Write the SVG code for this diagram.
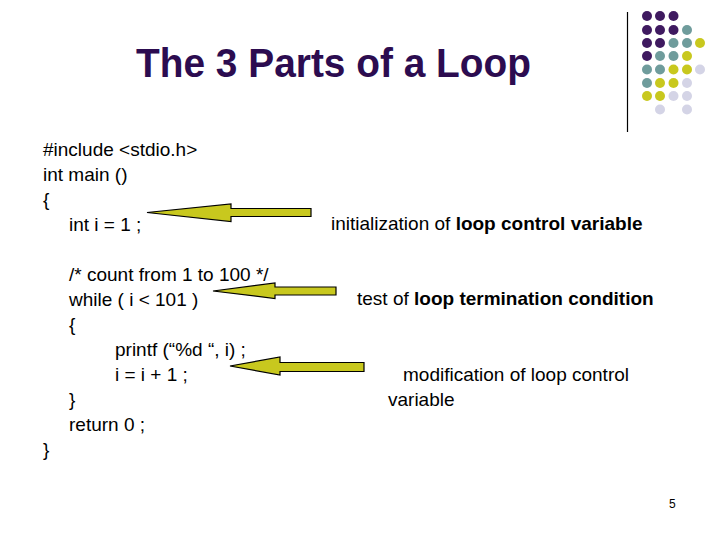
<svg xmlns="http://www.w3.org/2000/svg" width="720" height="540" viewBox="0 0 720 540">
<style>
.t{font-family:"Liberation Sans",Arial,sans-serif;fill:#000;font-size:19px}
.b{font-weight:bold}
.title{font-family:"Liberation Sans",Arial,sans-serif;fill:#2c0c50;font-size:40px;font-weight:bold}
.p{fill:#3f1a60}.g{fill:#6f9c9c}.y{fill:#c8c81e}.l{fill:#d4d4e6}
.arrow{fill:#c8c81e;stroke:#000;stroke-width:1.2;stroke-linejoin:miter}
</style>
<rect width="720" height="540" fill="#fff"/>
<g id="decor">
<line x1="627.5" y1="12" x2="627.5" y2="132" stroke="#000" stroke-width="1.2"/>
<circle class="p" cx="647" cy="16" r="5"/><circle class="p" cx="660" cy="16" r="5"/><circle class="p" cx="673.5" cy="16" r="5"/>
<circle class="p" cx="647" cy="30" r="5"/><circle class="p" cx="660" cy="30" r="5"/><circle class="p" cx="673.5" cy="30" r="5"/><circle class="g" cx="687" cy="30" r="5"/>
<circle class="p" cx="647" cy="43" r="5"/><circle class="p" cx="660" cy="43" r="5"/><circle class="g" cx="673.5" cy="43" r="5"/><circle class="g" cx="687" cy="43" r="5"/><circle class="y" cx="700" cy="43" r="5"/>
<circle class="p" cx="647" cy="56" r="5"/><circle class="g" cx="660" cy="56" r="5"/><circle class="g" cx="673.5" cy="56" r="5"/><circle class="y" cx="687" cy="56" r="5"/>
<circle class="g" cx="647" cy="69.5" r="5"/><circle class="g" cx="660" cy="69.5" r="5"/><circle class="y" cx="673.5" cy="69.5" r="5"/><circle class="y" cx="687" cy="69.5" r="5"/><circle class="l" cx="700" cy="69.5" r="5"/>
<circle class="g" cx="647" cy="83" r="5"/><circle class="y" cx="660" cy="83" r="5"/><circle class="y" cx="673.5" cy="83" r="5"/><circle class="l" cx="687" cy="83" r="5"/>
<circle class="y" cx="647" cy="96" r="5"/><circle class="y" cx="660" cy="96" r="5"/><circle class="l" cx="673.5" cy="96" r="5"/><circle class="l" cx="687" cy="96" r="5"/>
<circle class="l" cx="660" cy="109.5" r="5"/><circle class="l" cx="687" cy="109.5" r="5"/>
</g>
<g id="title"><text class="title" x="136" y="77" textLength="395" lengthAdjust="spacingAndGlyphs">The 3 Parts of a Loop</text></g>
<g id="code">
<text class="t" x="43" y="156">#include &lt;stdio.h&gt;</text>
<text class="t" x="43" y="181">int main ()</text>
<text class="t" x="43" y="206">{</text>
<text class="t" x="69" y="231">int i = 1 ;</text>
<text class="t" x="69" y="281">/* count from 1 to 100 */</text>
<text class="t" x="69" y="306">while ( i &lt; 101 )</text>
<text class="t" x="69" y="331">{</text>
<text class="t" x="115" y="356">printf (“%d “, i) ;</text>
<text class="t" x="115" y="381">i = i + 1 ;</text>
<text class="t" x="69" y="406">}</text>
<text class="t" x="69" y="431">return 0 ;</text>
<text class="t" x="43" y="456">}</text>
</g>
<g id="connectors">
<polygon class="arrow" points="147,212.5 231,204 231,208.5 311,208.5 311,216.5 231,216.5 231,221.5"/>
<polygon class="arrow" points="213,291 275,283 275,287 336,287 336,295 275,295 275,298.5"/>
<polygon class="arrow" points="230,366 280,357 280,362.5 364,362.5 364,371.5 280,371.5 280,375"/>
</g>
<g id="label1"><text class="t" x="331" y="230">initialization of <tspan class="b">loop control variable</tspan></text></g>
<g id="label2"><text class="t" x="357" y="305">test of <tspan class="b">loop termination condition</tspan></text></g>
<g id="label3"><text class="t" x="403" y="381">modification of loop control</text><text class="t" x="388" y="406">variable</text></g>
<g id="page"><text class="t" x="669" y="508" style="font-size:12px">5</text></g>
</svg>
